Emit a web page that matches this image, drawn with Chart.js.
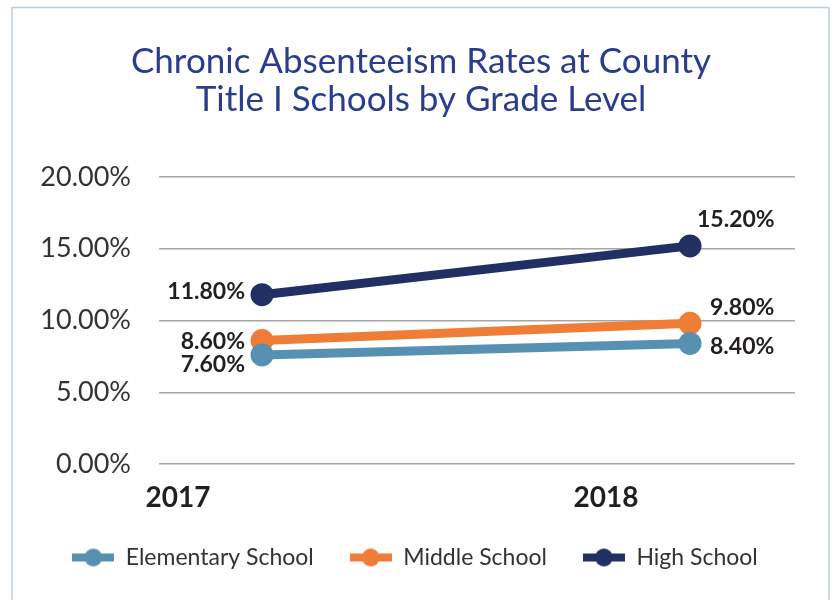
<!DOCTYPE html>
<html>
<head>
<meta charset="utf-8">
<script src="https://cdn.jsdelivr.net/npm/chart.js@4"></script>
<style>
  html, body { margin: 0; padding: 0; background: #ffffff; }
  #wrap { position: relative; width: 833px; height: 600px; }
</style>
</head>
<body>
<div id="wrap"><canvas id="c" width="833" height="600"></canvas></div>
<script>
// ---- data ----
const years = [2017, 2018];
const seriesNames = ['Elementary School', 'Middle School', 'High School'];
const elementary = [7.6, 8.4];
const middle = [8.6, 9.8];
const high = [11.8, 15.2];
const yTicks = [0, 5, 10, 15, 20];
const titleLines = ['Chronic Absenteeism Rates at County', 'Title I Schools by Grade Level'];

const colors = ['#5691b2', '#ee7d37', '#212f63'];
const FONT = 'Lato, "Open Sans", sans-serif';

// legend marker: line with a circle
function makeMarker(color) {
  const cv = document.createElement('canvas');
  cv.width = 42; cv.height = 20;
  const g = cv.getContext('2d');
  g.fillStyle = color;
  g.fillRect(0, 6, 42, 8);
  g.beginPath(); g.arc(21, 10, 9, 0, Math.PI * 2); g.fill();
  return cv;
}

// label placement (styles, not data): [dx, dy, align] per dataset per point
const labelPlacement = [
  [[-17, 10, 'right'], [20, 3, 'left']],
  [[-17, 1, 'right'], [20, -16, 'left']],
  [[-17, -3, 'right'], [7, -26, 'left']]
];

const valueLabels = {
  id: 'valueLabels',
  afterDatasetsDraw(chart) {
    const ctx = chart.ctx;
    ctx.save();
    ctx.font = 'bold 23px ' + FONT;
    ctx.fillStyle = '#231f20';
    ctx.textBaseline = 'middle';
    chart.data.datasets.forEach((ds, di) => {
      const meta = chart.getDatasetMeta(di);
      meta.data.forEach((pt, i) => {
        const v = ds.data[i].y;
        const [dx, dy, al] = labelPlacement[di][i];
        ctx.textAlign = al;
        ctx.fillText(v.toFixed(2) + '%', pt.x + dx, pt.y + dy);
      });
    });
    ctx.restore();
  }
};

const frame = {
  id: 'frame',
  beforeUpdate(chart) {
    const lg = chart.legend;
    if (lg && !lg._fixedFit) {
      const origFit = Object.getPrototypeOf(lg).fit;
      lg.fit = function () { origFit.call(this); this.height = 90; };
      lg._fixedFit = true;
    }
  },
  afterLayout(chart) {
    // centre the title and legend a little to the right, as in the original
    if (chart.titleBlock) chart.titleBlock.left = 47;
    if (chart.legend) chart.legend.left = 35;
  },
  beforeDraw(chart) {
    const ctx = chart.ctx;
    ctx.save();
    ctx.fillStyle = '#ffffff';
    ctx.fillRect(0, 0, chart.width, chart.height);
    ctx.strokeStyle = '#bccde0';
    ctx.lineWidth = 1.5;
    ctx.strokeRect(12, 7.5, 817, 620);
    ctx.restore();
  }
};

const dataSets = [elementary, middle, high].map((arr, k) => ({
  label: seriesNames[k],
  data: arr.map((v, i) => ({ x: years[i], y: v })),
  borderColor: colors[k],
  backgroundColor: colors[k],
  pointBackgroundColor: colors[k],
  pointBorderColor: colors[k],
  borderWidth: 9,
  pointRadius: 11.5,
  pointBorderWidth: 0,
  pointHoverRadius: 11.5,
  pointStyle: 'circle',
  tension: 0,
  fill: false
}));

new Chart(document.getElementById('c'), {
  type: 'line',
  data: { datasets: dataSets },
  plugins: [frame, valueLabels],
  options: {
    responsive: false,
    animation: false,
    events: [],
    layout: { padding: { top: 30, left: 12, right: 38, bottom: 0 } },
    scales: {
      x: {
        type: 'linear',
        min: years[0] - 0.2407,
        max: years[1] + 0.2453,
        afterBuildTicks(scale) { scale.ticks = years.map(v => ({ value: v })); },
        afterFit(scale) { scale.height = 46; },
        grid: { display: false },
        border: { display: false },
        ticks: {
          autoSkip: false,
          maxRotation: 0,
          labelOffset: -84,
          padding: 9,
          color: '#231f20',
          font: { family: FONT, size: 28, weight: 'bold' },
          callback: v => String(v)
        }
      },
      y: {
        min: 0,
        max: 20,
        afterBuildTicks(scale) { scale.ticks = yTicks.map(v => ({ value: v })); },
        afterFit(scale) { scale.width = 147; },
        grid: { color: '#a6a6a6', lineWidth: 1.5, drawTicks: false },
        border: { display: false },
        ticks: {
          padding: 28,
          color: '#333333',
          font: { family: FONT, size: 27 },
          callback: v => v.toFixed(2) + '%'
        }
      }
    },
    plugins: {
      title: {
        display: true,
        text: titleLines,
        color: '#2a3c8e',
        font: { family: FONT, size: 35, weight: 'normal', lineHeight: '38px' },
        padding: { top: 13, bottom: 58 }
      },
      legend: {
        display: true,
        position: 'bottom',
        labels: {
          usePointStyle: true,
          pointStyleWidth: 42,
          generateLabels(chart) {
            return chart.data.datasets.map((ds, i) => ({
              text: ds.label,
              pointStyle: makeMarker(colors[i]),
              fillStyle: colors[i],
              strokeStyle: colors[i],
              lineWidth: 0,
              fontColor: '#333333',
              datasetIndex: i
            }));
          },
          color: '#333333',
          font: { family: FONT, size: 23 },
          padding: 36
        }
      },
      tooltip: { enabled: false }
    }
  }
});
</script>
</body>
</html>
